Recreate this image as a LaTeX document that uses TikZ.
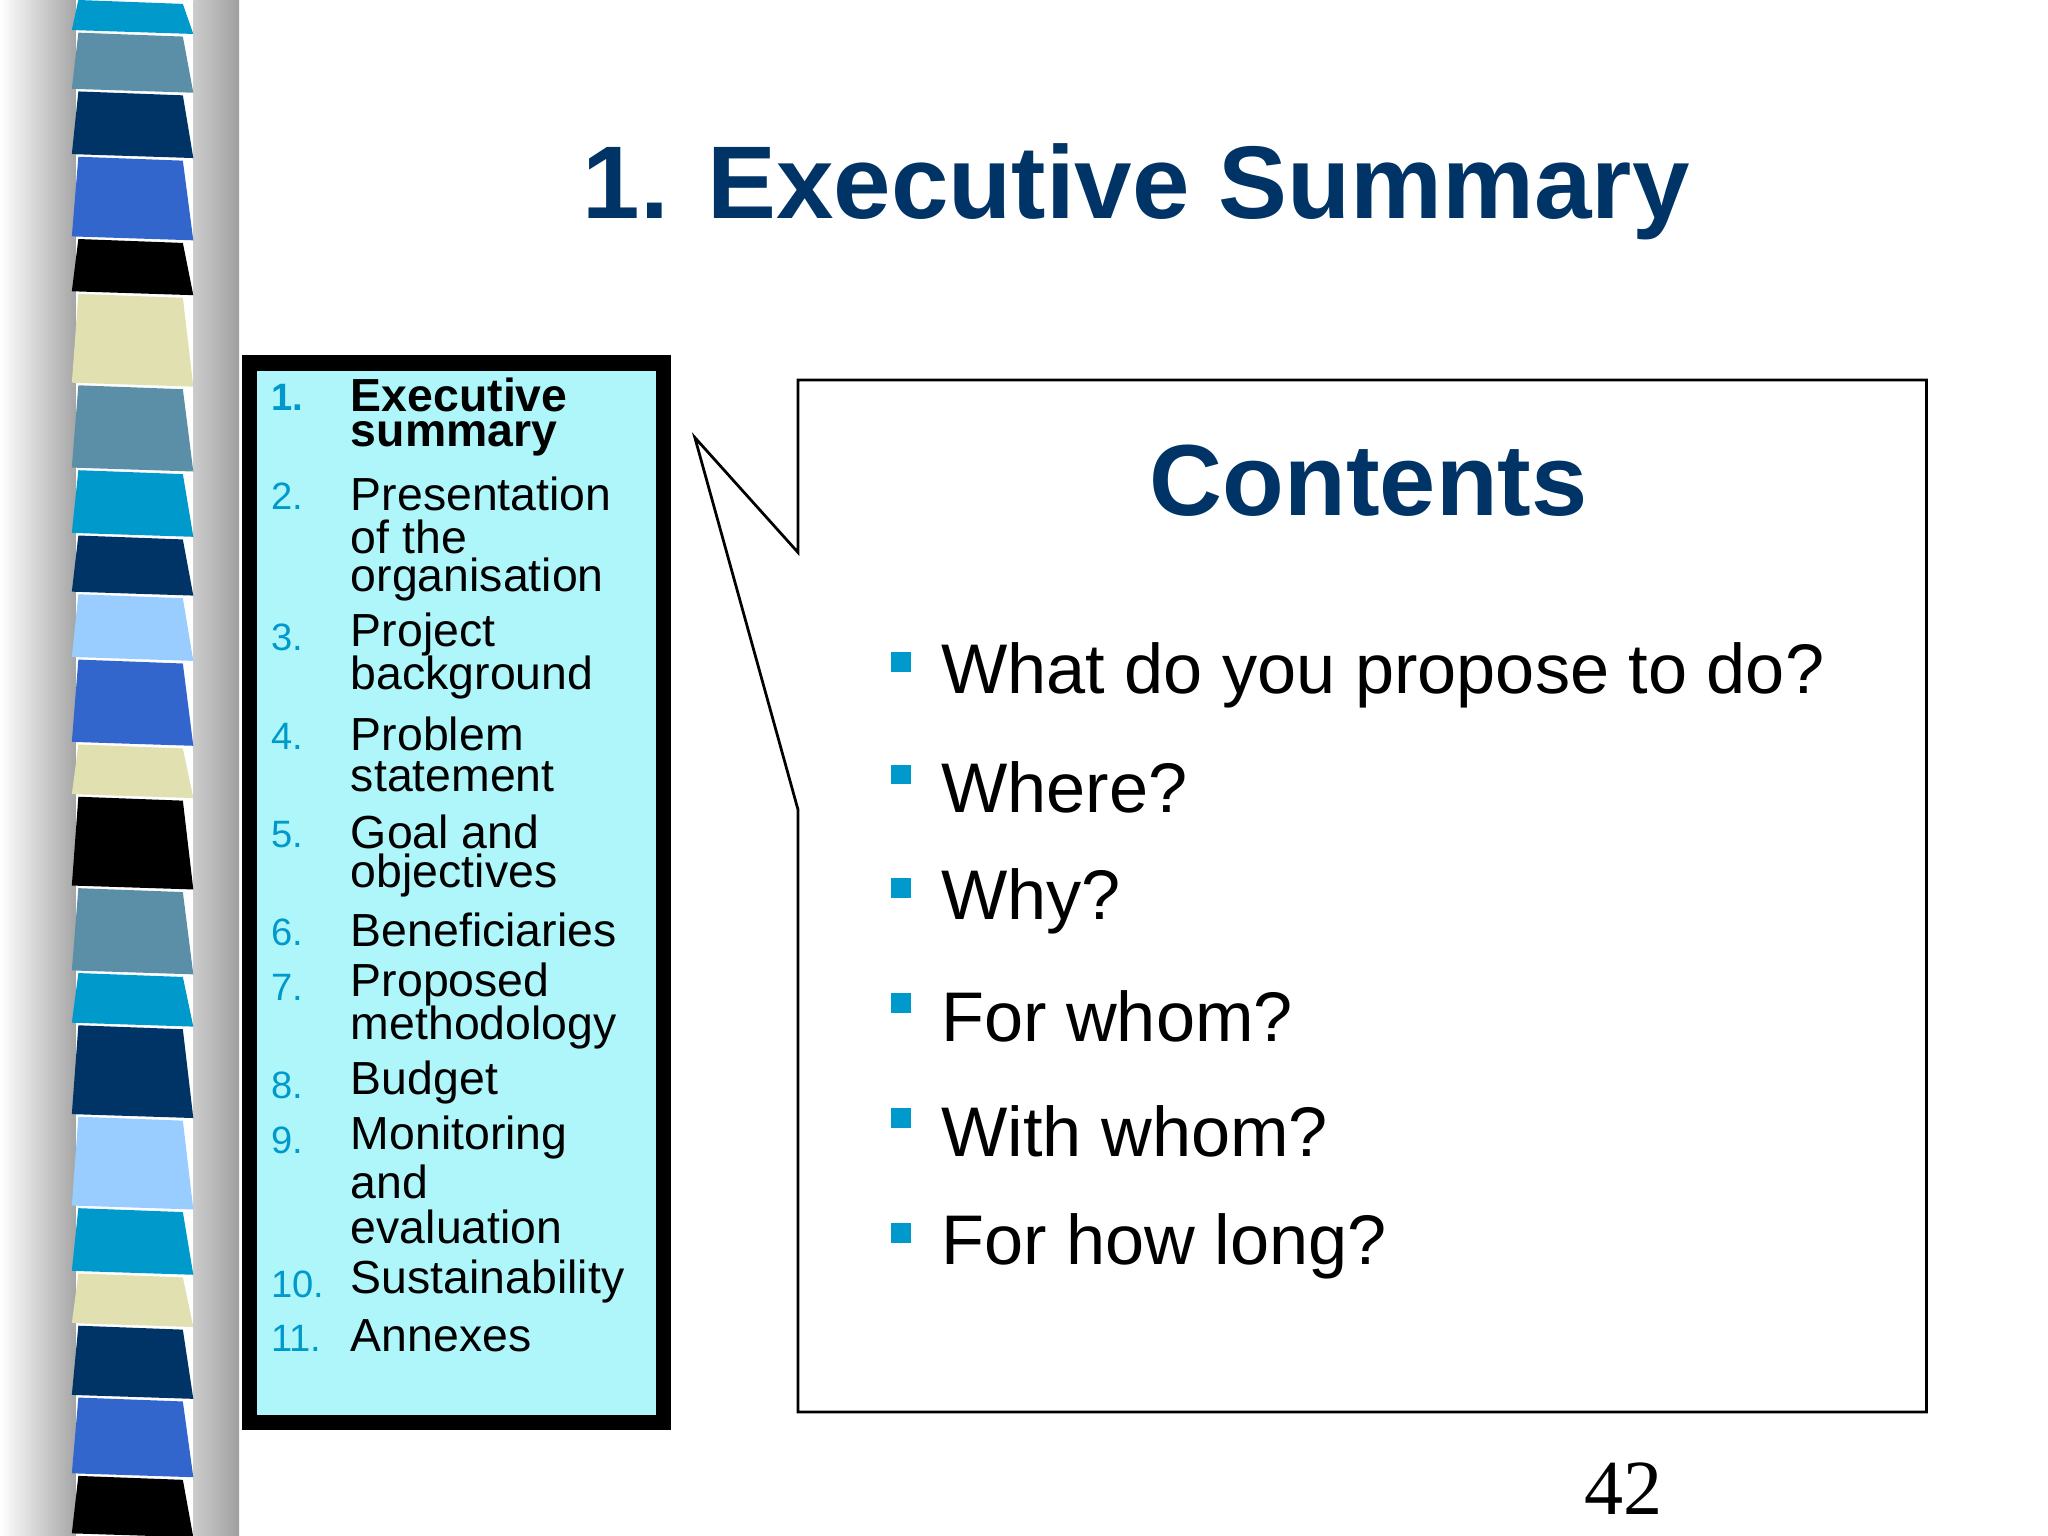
\documentclass[tikz,border=0pt]{standalone}
\usepackage{fontspec}
\setmainfont{Liberation Sans}
\newfontfamily\serifnum{Liberation Serif}
\definecolor{navy}{HTML}{003366}
\definecolor{cblue}{HTML}{0099CC}
\definecolor{steel}{HTML}{5B8FA8}
\definecolor{royal}{HTML}{3366CC}
\definecolor{beige}{HTML}{E0E0B0}
\definecolor{lblue}{HTML}{99CCFF}
\definecolor{boxfill}{HTML}{AEF6FA}
\tikzset{
 num/.style={anchor=west,text=cblue,font=\fontsize{8.3}{10}\selectfont,inner sep=0},
 itm/.style={anchor=west,font=\fontsize{10.1}{11}\selectfont,inner sep=0},
 bul/.style={fill=cblue,minimum size=0.15cm,inner sep=0},
 btxt/.style={anchor=west,font=\fontsize{15.3}{18}\selectfont,inner sep=0},
}
\begin{document}
\begin{tikzpicture}[x=0.01cm,y=-0.01cm]
\useasboundingbox (0,0) rectangle (1568,1176);
\fill[white] (0,0) rectangle (1568,1176);
% side strip
\shade[left color=white,right color=gray!70] (0,0) rectangle (58,1176);
\shade[left color=gray!40,right color=gray!75] (148,0) rectangle (183,1176);
\foreach \a/\b/\c in {0/25/cblue,25/70/steel,70/120/navy,120/183/royal,183/225/black,225/295/beige,295/360/steel,360/410/cblue,410/455/navy,455/505/lblue,505/570/royal,570/610/beige,610/680/black,680/745/steel,745/785/cblue,785/855/navy,855/925/lblue,925/975/cblue,975/1015/beige,1015/1070/navy,1070/1130/royal,1130/1176/black}
 \fill[\c] (60,\a) -- (140,\a+3) -- (148,\b+1) -- (55,\b-2) -- cycle;
% title
\node[font=\fontsize{22.5}{26}\selectfont\bfseries,text=navy] (title) at (870,147) {1. Executive Summary};
% left box
\draw[line width=0.12cm,fill=boxfill] (191,278) rectangle (508,1089);
\node[num,text=cblue] (n1) at (207,304) {\textbf{1.}};
\node[itm,font=\fontsize{10.1}{11}\selectfont\bfseries] (t1a) at (268,302) {Executive};
\node[itm,font=\fontsize{10.1}{11}\selectfont\bfseries] (t1b) at (268,336) {summary};
\node[num] (n2) at (207,380) {2.};
\node[itm] (t2a) at (268,378) {Presentation};
\node[itm] (t2b) at (268,411) {of the};
\node[itm] (t2c) at (268,444) {organisation};
\node[num] (n3) at (207,488) {3.};
\node[itm] (t3a) at (268,486) {Project};
\node[itm] (t3b) at (268,519) {background};
\node[num] (n4) at (207,564) {4.};
\node[itm] (t4a) at (268,562) {Problem};
\node[itm] (t4b) at (268,595) {statement};
\node[num] (n5) at (207,639) {5.};
\node[itm] (t5a) at (268,637) {Goal and};
\node[itm] (t5b) at (268,670) {objectives};
\node[num] (n6) at (207,714) {6.};
\node[itm] (t6) at (268,712) {Beneficiaries};
\node[num] (n7) at (207,756) {7.};
\node[itm] (t7a) at (268,754) {Proposed};
\node[itm] (t7b) at (268,787) {methodology};
\node[num] (n8) at (207,831) {8.};
\node[itm] (t8) at (268,829) {Budget};
\node[num] (n9) at (207,873) {9.};
\node[itm] (t9a) at (268,871) {Monitoring};
\node[itm] (t9b) at (268,905) {and};
\node[itm] (t9c) at (268,939) {evaluation};
\node[num] (n10) at (207,983) {10.};
\node[itm] (t10) at (268,981) {Sustainability};
\node[num] (n11) at (207,1025) {11.};
\node[itm] (t11) at (268,1023) {Annexes};
% callout
\draw[line width=0.6pt,fill=white] (611,291) -- (1475,291) -- (1475,1081) -- (611,1081) -- (611,620) -- (532,335) -- (611,423) -- cycle;
\node[font=\fontsize{22}{26}\selectfont\bfseries,text=navy] (ct) at (1048,368) {Contents};
\foreach \y/\t [count=\i] in {517/What do you propose to do?,603/Where?,690/Why?,778/For whom?,866/With whom?,954/For how long?}{
 \node[bul] (b\i) at (690,\y-10) {};
 \node[btxt] (q\i) at (720,\y) {\t};
}
\node[font=\serifnum\fontsize{17}{20}\selectfont] (pg) at (1243,1140) {42};
\end{tikzpicture}
\end{document}
